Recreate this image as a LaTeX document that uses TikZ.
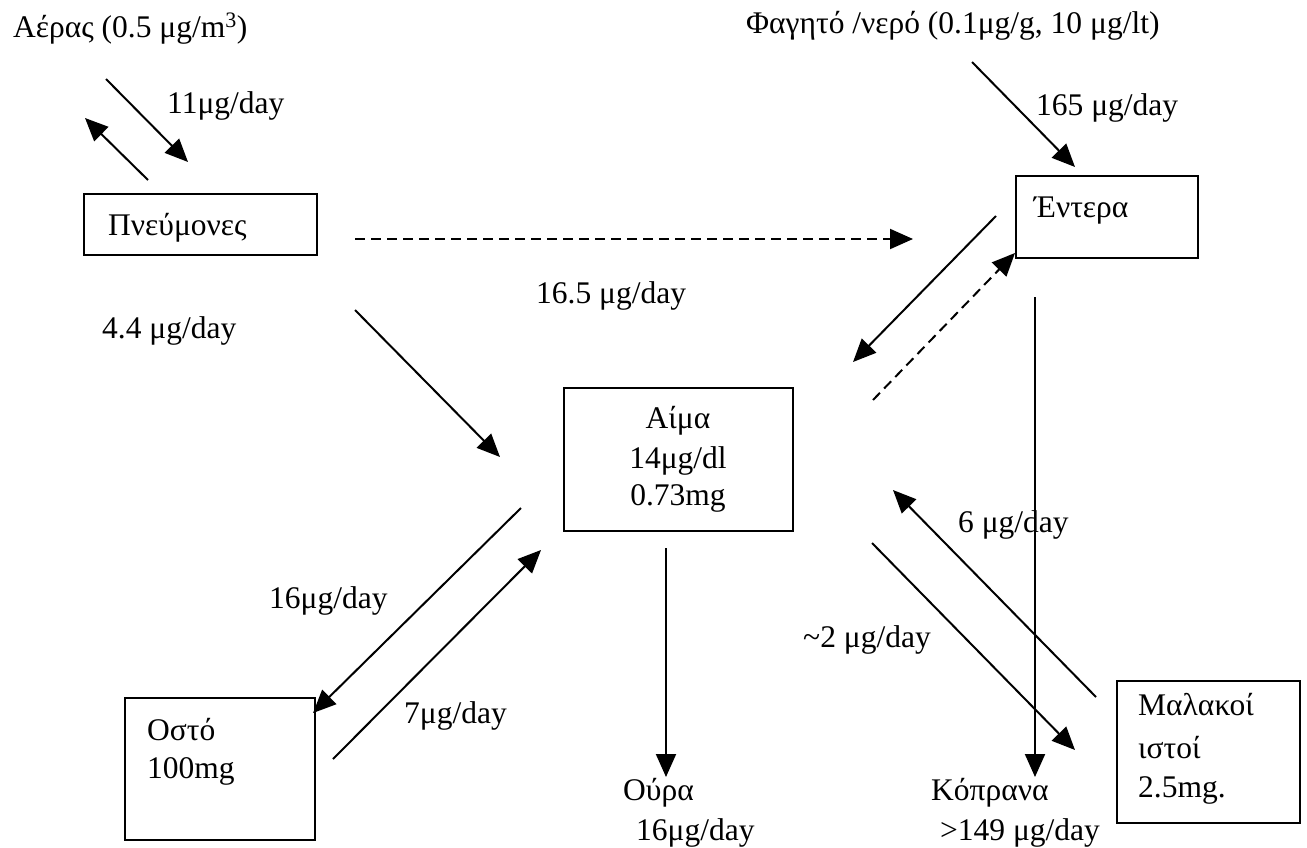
\documentclass[tikz,border=0pt]{standalone}
\usepackage{fontspec}
\setmainfont{Liberation Serif}
\usetikzlibrary{arrows.meta}
\newcommand\fs{\fontsize{31.5}{38}\selectfont}
\begin{document}
\begin{tikzpicture}[x=1pt,y=-1pt,
  box/.style={draw,line width=2pt,anchor=north west,inner sep=0pt},
  lbl/.style={anchor=base west,inner sep=0pt,font=\fs},
  ctr/.style={anchor=base,inner sep=0pt,font=\fs},
  con/.style={line width=2pt,-{Triangle[length=23pt,width=20pt]}},
  dcon/.style={con,dash pattern=on 10pt off 6pt}]
\useasboundingbox (0,0) rectangle (1307,847);
% boxes
\node[box,minimum width=233pt,minimum height=61pt] (lung) at (83,193) {};
\node[box,minimum width=182pt,minimum height=82pt] (gut) at (1015,175) {};
\node[box,minimum width=229pt,minimum height=143pt] (blood) at (563,387) {};
\node[box,minimum width=190pt,minimum height=142pt] (bone) at (124,697) {};
\node[box,minimum width=183pt,minimum height=142pt] (soft) at (1116,680) {};
% texts
\node[lbl] (air) at (13,37) {Αέρας (0.5 μg/m\textsuperscript{3})};
\node[lbl] (l11) at (167,113) {11μg/day};
\node[lbl] (lungt) at (108,235) {Πνεύμονες};
\node[lbl] (l44) at (102,338) {4.4 μg/day};
\node[lbl] (l165b) at (536,303) {16.5 μg/day};
\node[lbl] (food) at (746,33) {Φαγητό /νερό (0.1μg/g, 10 μg/lt)};
\node[lbl] (l165) at (1036,115) {165 μg/day};
\node[lbl] (gutt) at (1034,217) {Έντερα};
\node[ctr] (b1) at (678,428) {Αίμα};
\node[ctr] (b2) at (678,468) {14μg/dl};
\node[ctr] (b3) at (678,505) {0.73mg};
\node[lbl] (l16) at (269,608) {16μg/day};
\node[lbl] (l7) at (404,723) {7μg/day};
\node[lbl] (bone1) at (147,740) {Οστό};
\node[lbl] (bone2) at (147,778) {100mg};
\node[lbl] (ur1) at (623,800) {Ούρα};
\node[lbl] (ur2) at (636,840) {16μg/day};
\node[lbl] (l6) at (958,532) {6 μg/day};
\node[lbl] (l2) at (803,647) {\textasciitilde2 μg/day};
\node[lbl] (fe1) at (931,800) {Κόπρανα};
\node[lbl] (fe2) at (940,840) {>149 μg/day};
\node[lbl] (soft1) at (1138,715) {Μαλακοί};
\node[lbl] (soft2) at (1138,758) {ιστοί};
\node[lbl] (soft3) at (1138,797) {2.5mg.};
% connector ends
\coordinate (a1s) at (106,79);  \coordinate (a1e) at (188,162);
\coordinate (a2s) at (148,180); \coordinate (a2e) at (85,118);
\coordinate (a3s) at (355,239); \coordinate (a3e) at (913,239);
\coordinate (a4s) at (355,310); \coordinate (a4e) at (500,457);
\coordinate (a5s) at (972,62);  \coordinate (a5e) at (1075,167);
\coordinate (a6s) at (996,216); \coordinate (a6e) at (853,362);
\coordinate (a7s) at (873,400); \coordinate (a7e) at (1015,253);
\coordinate (a8s) at (1035,297); \coordinate (a8e) at (1035,777);
\coordinate (a9s) at (1096,697); \coordinate (a9e) at (893,490);
\coordinate (a10s) at (872,543); \coordinate (a10e) at (1075,750);
\coordinate (a11s) at (666,548); \coordinate (a11e) at (666,777);
\coordinate (a12s) at (521,508); \coordinate (a12e) at (313,713);
\coordinate (a13s) at (333,759); \coordinate (a13e) at (541,550);
\draw[con] (a1s) -- (a1e);
\draw[con] (a2s) -- (a2e);
\draw[dcon] (a3s) -- (a3e);
\draw[con] (a4s) -- (a4e);
\draw[con] (a5s) -- (a5e);
\draw[con] (a6s) -- (a6e);
\draw[dcon] (a7s) -- (a7e);
\draw[con] (a8s) -- (a8e);
\draw[con] (a9s) -- (a9e);
\draw[con] (a10s) -- (a10e);
\draw[con] (a11s) -- (a11e);
\draw[con] (a12s) -- (a12e);
\draw[con] (a13s) -- (a13e);
\end{tikzpicture}
\end{document}
